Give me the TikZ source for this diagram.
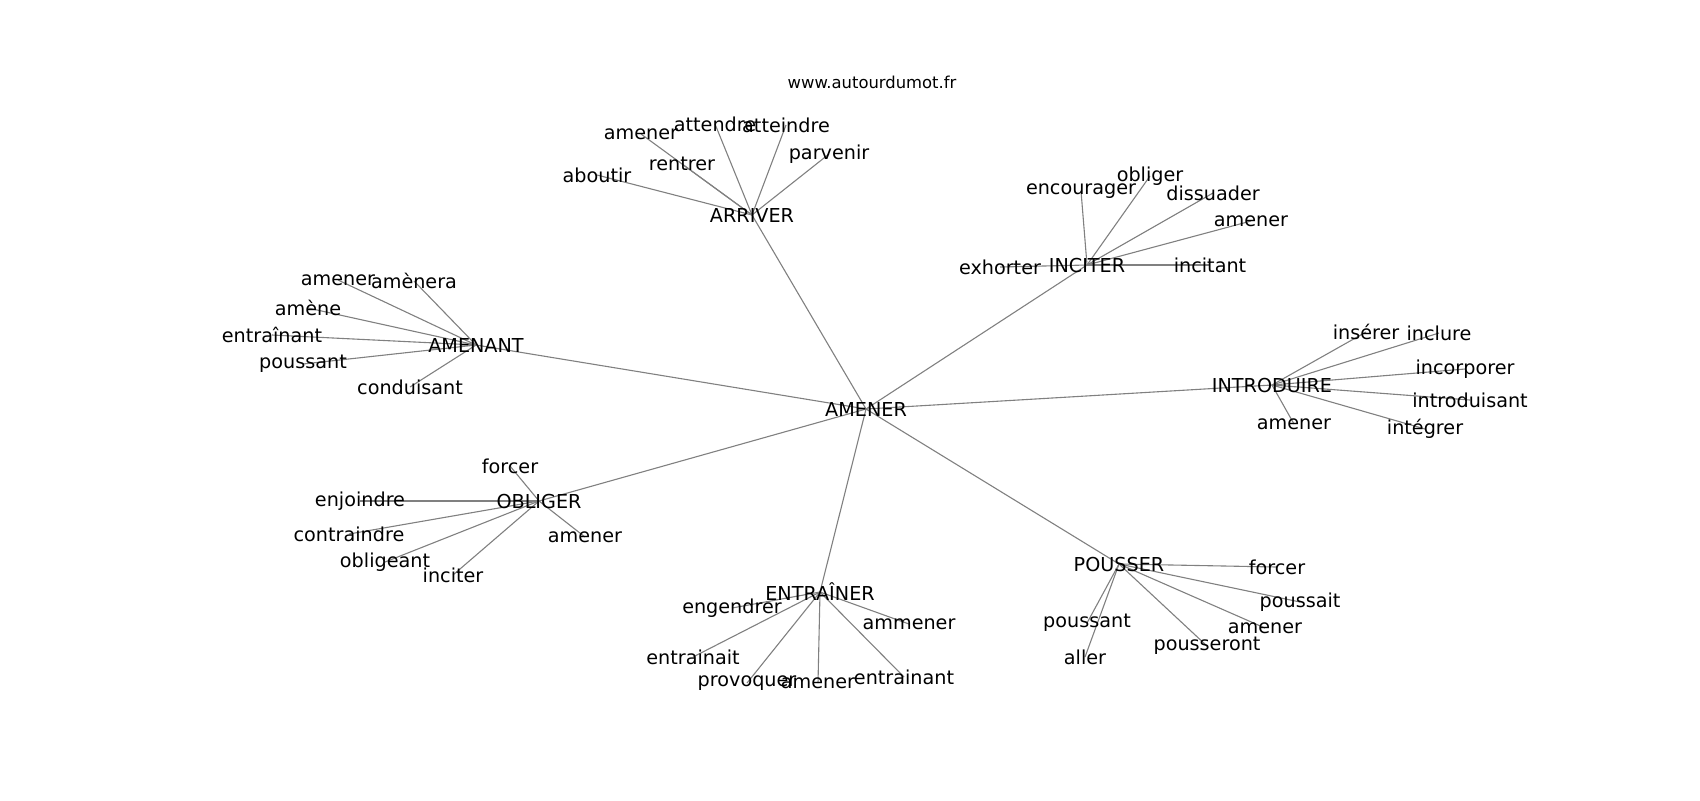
\documentclass[tikz,border=0pt]{standalone}
\usepackage{fontspec}
\setmainfont{DejaVu Sans}
\usetikzlibrary{backgrounds}

\begin{document}
\begin{tikzpicture}[x=0.5pt,y=-0.5pt]
        \tikzstyle{every node}=[inner sep=0pt, font=\fontsize{9.6}{11}\selectfont]
        \tikzstyle{lien}=[draw=gray, line width=0.55pt]
        \useasboundingbox (0,0) rectangle (1700,800);
        \node (url) at (872,82) {\fontsize{8.2}{10}\selectfont www.autourdumot.fr};
        \node (amener) at (866,409) {AMENER};
        % ARRIVER
        \node (arr) at (752,215) {ARRIVER};
        \node (arr-amener) at (641,134) {amener};
        \node (arr-attendre) at (715,124) {attendre};
        \node (arr-atteindre) at (786,125) {atteindre};
        \node (arr-parvenir) at (829,154) {parvenir};
        \node (arr-rentrer) at (682,164) {rentrer};
        \node (arr-aboutir) at (597,175) {aboutir};
        % AMENANT
        \node (amt) at (476,345) {AMENANT};
        \node (amt-amener) at (338,280) {amener};
        \node (amt-amenera) at (414,281) {amènera};
        \node (amt-amene) at (308,308) {amène};
        \node (amt-entrainant) at (272,335) {entraînant};
        \node (amt-poussant) at (303,364) {poussant};
        \node (amt-conduisant) at (410,387) {conduisant};
        % INCITER
        \node (inc) at (1087,265) {INCITER};
        \node (inc-obliger) at (1150,176) {obliger};
        \node (inc-encourager) at (1081,191) {encourager};
        \node (inc-dissuader) at (1213,193) {dissuader};
        \node (inc-amener) at (1251,221) {amener};
        \node (inc-incitant) at (1210,265) {incitant};
        \node (inc-exhorter) at (1000,267) {exhorter};
        % INTRODUIRE
        \node (intro) at (1272,385) {INTRODUIRE};
        \node (intro-inserer) at (1366,332) {insérer};
        \node (intro-inclure) at (1439,333) {inclure};
        \node (intro-incorporer) at (1465,369) {incorporer};
        \node (intro-introduisant) at (1470,400) {introduisant};
        \node (intro-amener) at (1294,424) {amener};
        \node (intro-integrer) at (1425,429) {intégrer};
        % OBLIGER
        \node (obl) at (539,501) {OBLIGER};
        \node (obl-forcer) at (510,466) {forcer};
        \node (obl-enjoindre) at (360,501) {enjoindre};
        \node (obl-contraindre) at (349,534) {contraindre};
        \node (obl-obligeant) at (385,562) {obligeant};
        \node (obl-inciter) at (453,575) {inciter};
        \node (obl-amener) at (585,537) {amener};
        % ENTRAINER
        \node (ent) at (820,592) {ENTRAÎNER};
        \node (ent-engendrer) at (732,608) {engendrer};
        \node (ent-ammener) at (909,624) {ammener};
        \node (ent-entrainait) at (693,657) {entrainait};
        \node (ent-provoquer) at (747,683) {provoquer};
        \node (ent-amener) at (818,683) {amener};
        \node (ent-entrainant) at (904,677) {entrainant};
        % POUSSER
        \node (pou) at (1119,564) {POUSSER};
        \node (pou-forcer) at (1277,567) {forcer};
        \node (pou-poussait) at (1300,602) {poussait};
        \node (pou-poussant) at (1087,623) {poussant};
        \node (pou-aller) at (1085,657) {aller};
        \node (pou-amener) at (1265,628) {amener};
        \node (pou-pousseront) at (1207,646) {pousseront};
        \begin{scope}[on background layer]
        \foreach \h in {arr,amt,inc,intro,obl,ent,pou} \draw[lien] (amener.center) -- (\h.center);
        \foreach \w in {amener,attendre,atteindre,parvenir,rentrer,aboutir} \draw[lien] (arr.center) -- (arr-\w.center);
        \foreach \w in {amener,amenera,amene,entrainant,poussant,conduisant} \draw[lien] (amt.center) -- (amt-\w.center);
        \foreach \w in {obliger,encourager,dissuader,amener,incitant,exhorter} \draw[lien] (inc.center) -- (inc-\w.center);
        \foreach \w in {inserer,inclure,incorporer,introduisant,amener,integrer} \draw[lien] (intro.center) -- (intro-\w.center);
        \foreach \w in {forcer,enjoindre,contraindre,obligeant,inciter,amener} \draw[lien] (obl.center) -- (obl-\w.center);
        \foreach \w in {engendrer,ammener,entrainait,provoquer,amener,entrainant} \draw[lien] (ent.center) -- (ent-\w.center);
        \foreach \w in {forcer,poussait,poussant,aller,amener,pousseront} \draw[lien] (pou.center) -- (pou-\w.center);
        \end{scope}
    \end{tikzpicture}
\end{document}
